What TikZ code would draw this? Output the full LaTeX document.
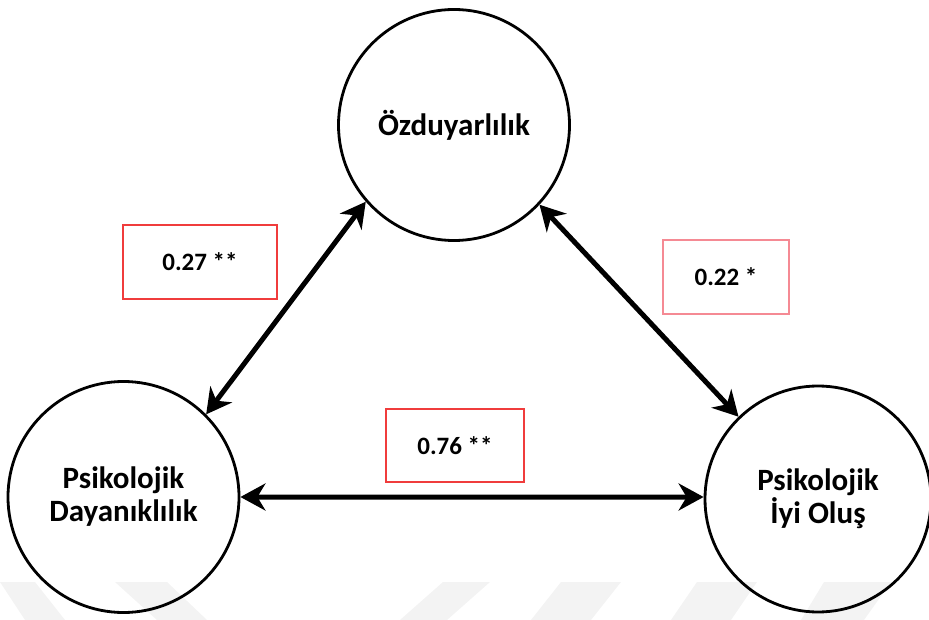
\documentclass[tikz,border=0pt]{standalone}
\usepackage{fontspec}
\setmainfont{Carlito}
\usetikzlibrary{arrows.meta}
\definecolor{boxred}{HTML}{F03C3C}
\definecolor{boxpink}{HTML}{F58A94}
\definecolor{wm}{HTML}{F3F3F3}
\tikzset{
  construct/.style={draw=black, line width=2.8pt, circle, inner sep=0pt, align=center,
    font=\bfseries\fontsize{31}{33}\selectfont},
  coefbox/.style={draw=boxred, line width=1.1pt, inner sep=0pt, font=\bfseries\fontsize{25}{28}\selectfont},
  corr/.style={line width=5pt, {Stealth[length=25pt,width=27pt,inset=8pt]}-{Stealth[length=25pt,width=27pt,inset=8pt]}},
}
\begin{document}
\begin{tikzpicture}[x=1pt,y=-1pt]
\useasboundingbox (0,0) rectangle (929,620);
% faint watermark
\fill[wm] (0,582) -- (35,582) -- (65,620) -- (25,620) -- cycle;
\fill[wm] (115,582) -- (167,582) -- (207,620) -- (157,620) -- cycle;
\fill[wm] (443,582) -- (490,582) -- (447,620) -- (400,620) -- cycle;
\fill[wm] (561,582) -- (621,582) -- (591,620) -- (531,620) -- cycle;
\fill[wm] (697,582) -- (757,582) -- (731,620) -- (671,620) -- cycle;
\fill[wm] (824,582) -- (891,582) -- (864,620) -- (801,620) -- cycle;
% constructs
\node[construct, minimum size=231pt] (T) at (454,125) {Özduyarlılık};
\node[construct, minimum size=231pt] (L) at (123.5,497) {Psikolojik\\Dayanıklılık};
\node[construct, minimum size=226pt] (R) at (818,499) {Psikolojik\\İyi Oluş};
% correlations
\draw[corr] (L.45) -- (T.221);
\draw[corr] (T.317) -- (R.134);
\draw[corr] (L.east) -- (R.179);
% coefficient boxes
\node[coefbox, minimum width=154pt, minimum height=74pt] (b1) at (200,262) {0.27 **};
\node[coefbox, draw=boxpink, minimum width=126pt, minimum height=74pt] (b2) at (726,277) {0.22 *};
\node[coefbox, minimum width=138pt, minimum height=73pt] (b3) at (455,445.5) {0.76 **};
\end{tikzpicture}
\end{document}
